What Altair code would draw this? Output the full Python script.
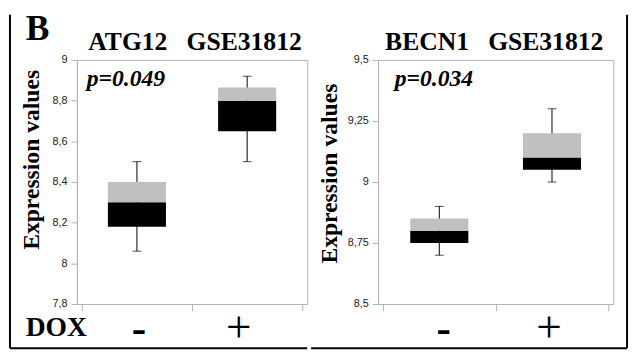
import altair as alt
import pandas as pd

# ---- data ----
dox = ["-", "+"]

atg_title = "ATG12\u00a0\u00a0\u00a0GSE31812"
atg_min = [8.06, 8.50]
atg_q1 = [8.18, 8.65]
atg_med = [8.30, 8.80]
atg_q3 = [8.40, 8.865]
atg_max = [8.50, 8.92]
atg_p = "p=0.049"
atg_ticks = [7.8, 8.0, 8.2, 8.4, 8.6, 8.8, 9.0]

becn_title = "BECN1\u00a0\u00a0\u00a0GSE31812"
becn_min = [8.70, 9.00]
becn_q1 = [8.75, 9.05]
becn_med = [8.80, 9.10]
becn_q3 = [8.85, 9.20]
becn_max = [8.90, 9.30]
becn_p = "p=0.034"
becn_ticks = [8.5, 8.75, 9.0, 9.25, 9.5]

panel_label = "B"
x_title = "DOX"
y_title = "Expression values"

GRAY = "#b4b4b4"
SERIF = "'Liberation Serif', 'Times New Roman', serif"
SANS = "'Liberation Sans', Arial, sans-serif"
H = 248


def panel(title, mins, q1, med, q3, maxs, pval, ticks, W, o, first):
    df = pd.DataFrame({
        "dox": dox,
        "pos": [i + 0.5 for i in range(len(dox))],
        "min": mins, "q1": q1, "med": med, "q3": q3, "max": maxs,
    })
    base = alt.Chart(df)
    xs = alt.Scale(domain=[0, len(dox)], nice=False)
    ys = alt.Scale(domain=[ticks[0], ticks[-1]], nice=False, zero=False)
    x = alt.X("pos:Q", scale=xs, axis=alt.Axis(
        values=list(range(len(dox) + 1)), labels=False, title=None, grid=False,
        tickSize=7, domainColor=GRAY, tickColor=GRAY))
    y = alt.Y("min:Q", scale=ys, axis=alt.Axis(
        values=ticks, grid=False,
        labelExpr="replace(format(datum.value, '.2~f'), '.', ',')",
        labelFont=SANS, labelFontSize=11, labelColor="#222", labelPadding=4,
        tickSize=6, domainColor=GRAY, tickColor=GRAY,
        title=y_title, titleFont=SERIF, titleFontSize=24, titleFontWeight="bold",
        titleColor="black", titleAngle=-90, titleBaseline="alphabetic",
        titleAlign="center", titleX=o["ytx"], titleY=o["yty"]))

    whisk = base.mark_rule(color="black", strokeWidth=1).encode(x=x, y=y, y2="max:Q")
    cap_lo = base.mark_tick(orient="horizontal", size=9, thickness=1, color="black").encode(
        x="pos:Q", y="min:Q")
    cap_hi = base.mark_tick(orient="horizontal", size=9, thickness=1, color="black").encode(
        x="pos:Q", y="max:Q")
    black = base.mark_bar(size=59, color="black").encode(
        x="pos:Q", y="q1:Q", y2="med:Q")
    gray = base.mark_bar(size=59, color="#c0c0c0").encode(
        x="pos:Q", y="med:Q", y2="q3:Q")

    minus = base.transform_filter("datum.dox == '-'").mark_text(
        font=SERIF, fontSize=44, fontWeight="bold", color="black",
        baseline="alphabetic", align="center", dx=o["dxm"]).encode(
        x="pos:Q", y=alt.value(288), text="dox:N")
    plus = base.transform_filter("datum.dox == '+'").mark_text(
        font=SERIF, fontSize=46, color="black",
        baseline="alphabetic", align="center", dx=o["dxp"]).encode(
        x="pos:Q", y=alt.value(287), text="dox:N")

    tdf = pd.DataFrame({"t": [title]})
    ttl = alt.Chart(tdf).mark_text(font=SERIF, fontSize=26, fontWeight="bold",
                                   color="black", baseline="alphabetic",
                                   align="center").encode(
        x=alt.value(o["tx"]), y=alt.value(-10), text="t:N")
    pdf = pd.DataFrame({"p": [pval]})
    ptxt = alt.Chart(pdf).mark_text(font=SERIF, fontSize=24, fontWeight="bold",
                                    fontStyle="italic", color="black",
                                    baseline="alphabetic", align="left").encode(
        x=alt.value(o["px"]), y=alt.value(26), text="p:N")

    one = pd.DataFrame({"f": [0]})
    layers = [whisk, cap_lo, cap_hi, black, gray, minus, plus, ttl, ptxt]
    # figure frame
    layers.append(alt.Chart(one).mark_rule(color="black", strokeWidth=2).encode(
        x=alt.value(o["fx1"]), x2=alt.value(o["fx2"]), y=alt.value(293)))
    layers.append(alt.Chart(one).mark_rule(color="black", strokeWidth=2).encode(
        x=alt.value(o["fv"]), y=alt.value(-46), y2=alt.value(293)))
    if first:
        ldf = pd.DataFrame({"t": [panel_label], "d": [x_title]})
        layers.append(alt.Chart(ldf).mark_text(
            font=SERIF, fontSize=36, fontWeight="bold", color="black",
            baseline="alphabetic", align="left").encode(
            x=alt.value(-52), y=alt.value(-20), text="t:N"))
        layers.append(alt.Chart(ldf).mark_text(
            font=SERIF, fontSize=28, fontWeight="bold", color="black",
            baseline="alphabetic", align="left").encode(
            x=alt.value(-52), y=alt.value(280), text="d:N"))
    return alt.layer(*layers).properties(width=W, height=H)


left = panel(atg_title, atg_min, atg_q1, atg_med, atg_q3, atg_max, atg_p, atg_ticks, 234,
             dict(ytx=-38.5, yty=101, dxm=2, dxp=-8.5, tx=120, px=10,
                  fx1=-68, fx2=234, fv=-68), True)
right = panel(becn_title, becn_min, becn_q1, becn_med, becn_q3, becn_max, becn_p, becn_ticks, 239,
              dict(ytx=-42, yty=115, dxm=4.5, dxp=-3, tx=118, px=17,
                   fx1=-68, fx2=253, fv=253), False)

chart = alt.hconcat(left, right, spacing=0).configure_view(
    stroke=GRAY, strokeWidth=1).properties(padding=0)

chart.save("out.html", embed_options={"renderer": "svg", "actions": False})
